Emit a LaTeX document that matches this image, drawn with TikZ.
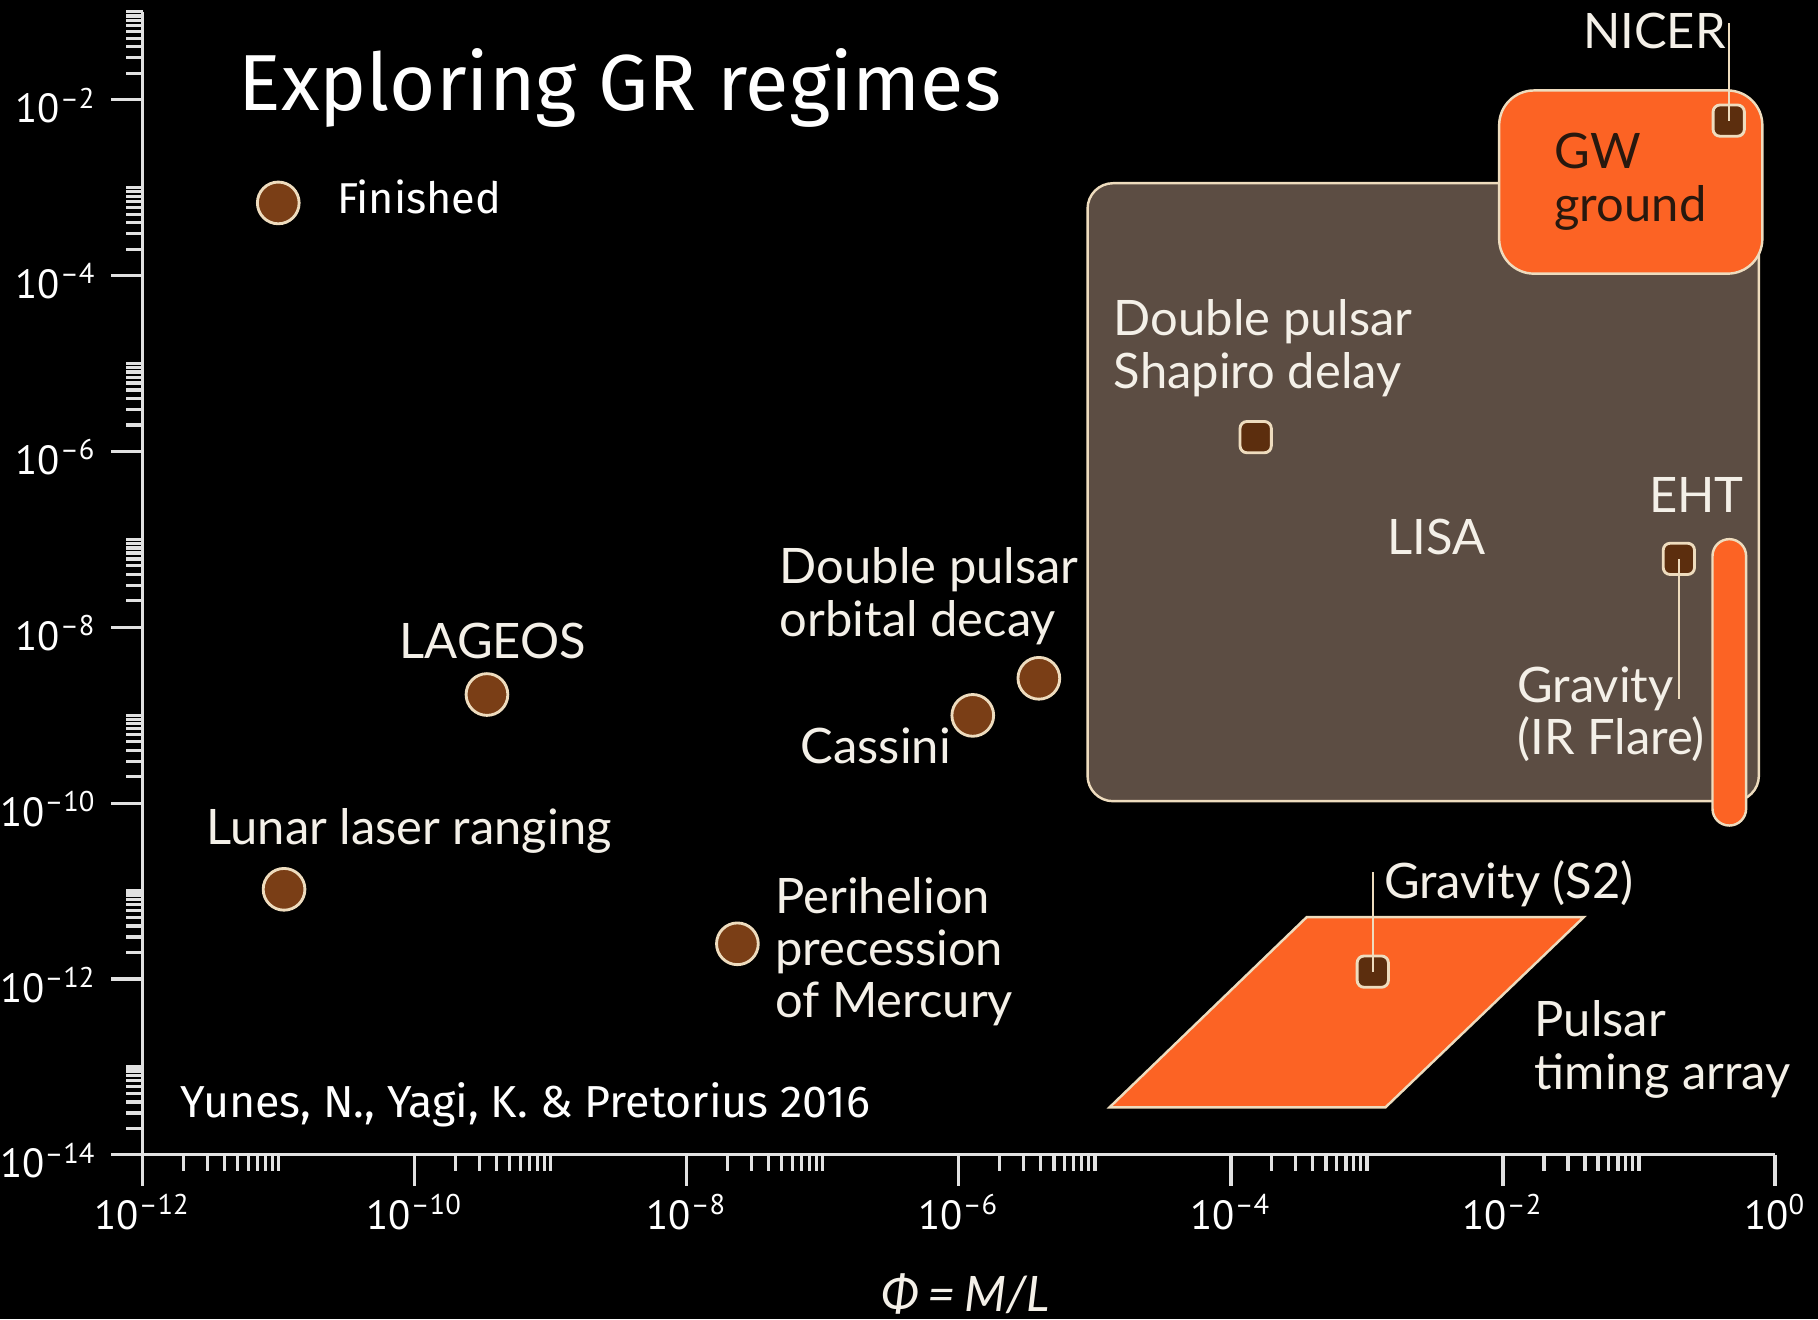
\documentclass[tikz,border=0pt]{standalone}
\usepackage{fontspec}
\setmainfont{Lato}
\newfontfamily\titlefont{Fira Sans}
\newfontfamily\tickfont{PT Sans}
\definecolor{orangeF}{RGB}{252,99,36}
\definecolor{lisagrey}{RGB}{92,77,67}
\definecolor{dotbrown}{RGB}{122,62,22}
\definecolor{sqbrown}{RGB}{92,46,14}
\definecolor{cream}{RGB}{238,220,190}
\definecolor{labelwhite}{RGB}{244,240,232}
\definecolor{axisgrey}{RGB}{225,225,225}
\definecolor{darktext}{RGB}{40,24,14}
\begin{document}
\begin{tikzpicture}[x=0.1mm,y=-0.1mm,
  dot/.style={circle, minimum size=3.6mm, inner sep=0pt, fill=dotbrown, draw=cream, line width=0.7pt},
  sq/.style={rectangle, rounded corners=0.6mm, minimum size=2.7mm, inner sep=0pt, fill=sqbrown, draw=cream, line width=0.7pt},
  lbl/.style={text=labelwhite, font=\fontsize{12}{13}\selectfont, inner sep=0pt, align=left},
  darklbl/.style={text=darktext, font=\fontsize{12}{13}\selectfont, inner sep=0pt, align=left},
  leader/.style={draw=cream, line width=0.6pt},
  axisline/.style={draw=axisgrey, line width=0.8pt},
  ticklbl/.style={text=white, font=\tickfont\fontsize{10}{12}\selectfont, inner sep=0pt},
  orangeshape/.style={fill=orangeF, draw=cream, line width=0.6pt},
  lisashape/.style={fill=lisagrey, draw=cream, line width=0.6pt, rounded corners=2.2mm}
]
\fill[black] (0,0) rectangle (1568,1138);
\useasboundingbox (0,0) rectangle (1568,1138);

% regions
\draw[lisashape] (938,158) rectangle (1517,691);
\draw[orangeshape, rounded corners=3mm] (1293,78) rectangle (1520,236);
\draw[orangeshape, rounded corners=1.45mm] (1477,465) rectangle (1506,712);
\draw[orangeshape] (1127,791) -- (1366,791) -- (1195,955) -- (957,955) -- cycle;

% axes
\draw[axisline] (123,10) -- (123,996) -- (1531,996);
\foreach \k in {-14,-12,...,-2} {
  \foreach \m in {2,...,10} {
    \pgfmathsetmacro\yy{996-(\k+14+log10(\m))*75.83}
    \draw[axisline] (109,\yy) -- (123,\yy);
  }
  \pgfmathsetmacro\yy{996-(\k+14)*75.83}
  \pgfmathtruncatemacro\ab{-\k}
  \draw[axisline] (96,\yy) -- (123,\yy);
  \node[ticklbl, anchor=east] (ylab\ab) at (84,\yy+5) {10\textsuperscript{–\ab}};
}
\foreach \k in {-12,-10,...,-2} {
  \foreach \m in {2,...,10} {
    \pgfmathsetmacro\xx{123+(\k+12+log10(\m))*117.33}
    \draw[axisline] (\xx,996) -- (\xx,1010);
  }
  \pgfmathsetmacro\xx{123+(\k+12)*117.33}
  \pgfmathtruncatemacro\ab{-\k}
  \draw[axisline] (\xx,996) -- (\xx,1023);
  \node[ticklbl, anchor=base] (xlab\ab) at (\xx,1060) {10\textsuperscript{–\ab}};
}
\draw[axisline] (1531,996) -- (1531,1023);
\node[ticklbl, anchor=base] (xlab0) at (1531,1060) {10\textsuperscript{0}};
\node[lbl, anchor=center] (philbl) at (833,1116) {\textit{Φ\,=\,M/L}};

% title, legend, credit
\node[text=white, font=\titlefont\fontsize{19.5}{24}\selectfont, inner sep=0pt, anchor=base west] (title) at (205,95) {Exploring GR regimes};
\node[dot] (legdot) at (240,175) {};
\node[text=white, font=\titlefont\fontsize{10.6}{13}\selectfont, inner sep=0pt, anchor=west] (finished) at (290,170) {Finished};
\node[text=white, font=\titlefont\fontsize{11}{13}\selectfont, inner sep=0pt, anchor=west] (credit) at (155,953) {Yunes, N., Yagi, K. \& Pretorius 2016};

% finished experiments
\node[dot] (lageos) at (420,599) {};
\node[lbl, anchor=center] (lageoslbl) at (425,553) {LAGEOS};
\node[dot] (llr) at (245,767) {};
\node[lbl, anchor=center] (llrlbl) at (353,717) {Lunar laser ranging};
\node[dot] (mercury) at (636,814) {};
\node[lbl, anchor=west, font=\fontsize{12}{12.7}\selectfont] (mercurylbl) at (668,821) {Perihelion\\precession\\of Mercury};
\node[dot] (cassini) at (839,617) {};
\node[lbl, anchor=west] (cassinilbl) at (690,643) {Cassini};
\node[dot] (dpdecay) at (896,585) {};
\node[lbl, anchor=west] (dpdecaylbl) at (672,514) {Double pulsar\\orbital decay};

% ongoing / future
\node[sq] (shapiro) at (1083,377) {};
\node[lbl, anchor=west] (shapirolbl) at (960,300) {Double pulsar\\Shapiro delay};
\node[lbl, anchor=center] (lisalbl) at (1239,463) {LISA};
\node[darklbl, anchor=west] (gwlbl) at (1340,157) {GW\\ground};

\node[sq] (nicer) at (1491,104) {};
\node[lbl, anchor=center] (nicerlbl) at (1427,27) {NICER};
\coordinate (nicerend) at (1491,20);
\draw[leader] (nicer.center) -- (nicerend);

\node[sq] (eht) at (1448,482) {};
\node[lbl, anchor=center] (ehtlbl) at (1463,427) {EHT};
\coordinate (ehtend) at (1448,603);
\draw[leader] (eht.center) -- (ehtend);
\node[lbl, anchor=west] (irlbl) at (1308,616) {Gravity\\(IR Flare)};

\node[sq] (s2) at (1184,838) {};
\coordinate (s2end) at (1184,752);
\draw[leader] (s2.center) -- (s2end);
\node[lbl, anchor=west] (s2lbl) at (1193,762) {Gravity (S2)};
\node[lbl, anchor=west] (ptalbl) at (1323,905) {Pulsar\\timing array};
\end{tikzpicture}
\end{document}
